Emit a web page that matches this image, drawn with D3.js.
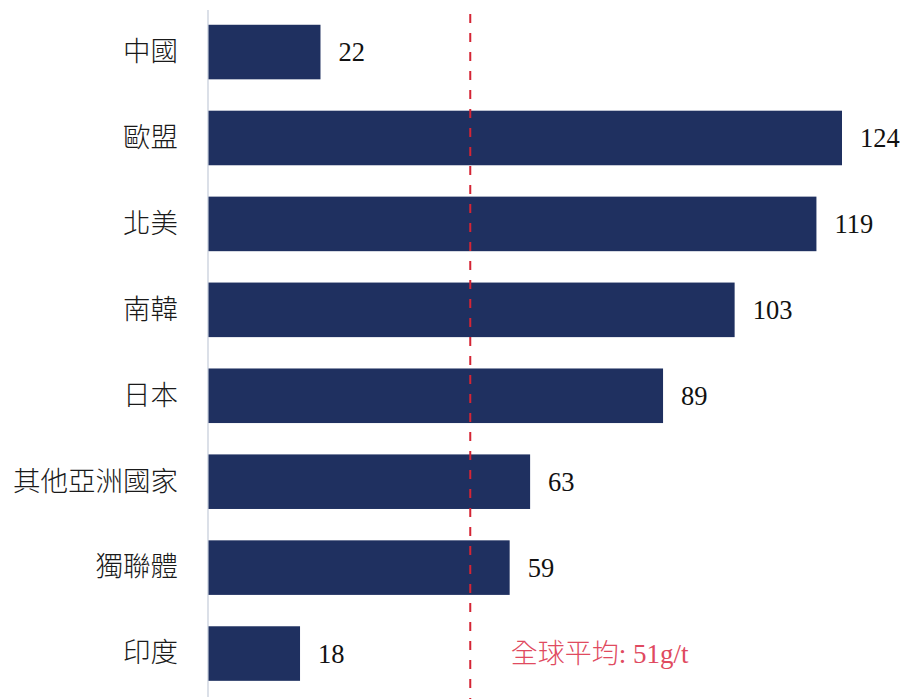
<!DOCTYPE html>
<html>
<head>
<meta charset="utf-8">
<script src="https://cdn.jsdelivr.net/npm/d3@7"></script>
<style>
  html, body { margin: 0; padding: 0; background: #fff; }
  svg text { font-family: "Liberation Serif", "Noto Sans CJK TC", serif; }
</style>
</head>
<body>
<svg id="chart" width="907" height="699"></svg>
<script>
const regions = ["中國", "歐盟", "北美", "南韓", "日本", "其他亞洲國家", "獨聯體", "印度"];
const intensity = [22, 124, 119, 103, 89, 63, 59, 18];
const globalAverage = 51;
const averageLabel = "全球平均: 51g/t";

const svg = d3.select("#chart");

const x = d3.scaleLinear().domain([0, 124]).range([208, 842]);
const y = d3.scaleBand().domain(regions).range([9.3, 696.3]).paddingInner(0.365).paddingOuter(0.18);

const rows = regions.map((r, i) => ({ region: r, value: intensity[i] }));

// bars
svg.append("g").selectAll("rect").data(rows).join("rect")
  .attr("x", x(0))
  .attr("y", d => y(d.region))
  .attr("width", d => x(d.value) - x(0))
  .attr("height", y.bandwidth())
  .attr("fill", "#1f3060");

// category axis
const yAxis = svg.append("g")
  .attr("transform", `translate(${x(0)},0)`)
  .call(d3.axisLeft(y).tickSize(0).tickPadding(30));
yAxis.select(".domain").remove();
yAxis.selectAll("text")
  .attr("font-size", 27.5)
  .attr("fill", "#1a1a1a")
  .style("font-family", "'Noto Sans CJK TC', sans-serif")
  .style("font-weight", 300);

svg.append("line")
  .attr("x1", x(0)).attr("x2", x(0))
  .attr("y1", 10).attr("y2", 697)
  .attr("stroke", "#c4cbd9").attr("stroke-width", 1.2);

// value labels
svg.append("g").selectAll("text").data(rows).join("text")
  .attr("x", d => x(d.value) + 18)
  .attr("y", d => y(d.region) + y.bandwidth() / 2)
  .attr("dy", "0.35em")
  .attr("font-size", 26.5)
  .attr("fill", "#111")
  .text(d => d.value);

// global average reference line
svg.append("line")
  .attr("x1", x(globalAverage) + 1.5).attr("x2", x(globalAverage) + 1.5)
  .attr("y1", 14).attr("y2", 699)
  .attr("stroke", "#d42535").attr("stroke-width", 2)
  .attr("stroke-dasharray", "9,10");

svg.append("text")
  .attr("x", x(globalAverage) + 42)
  .attr("y", y(regions[regions.length - 1]) + y.bandwidth() / 2)
  .attr("dy", "0.35em")
  .attr("font-size", 27)
  .attr("fill", "#e04a60")
  .style("font-weight", 300)
  .text(averageLabel);
</script>
</body>
</html>
